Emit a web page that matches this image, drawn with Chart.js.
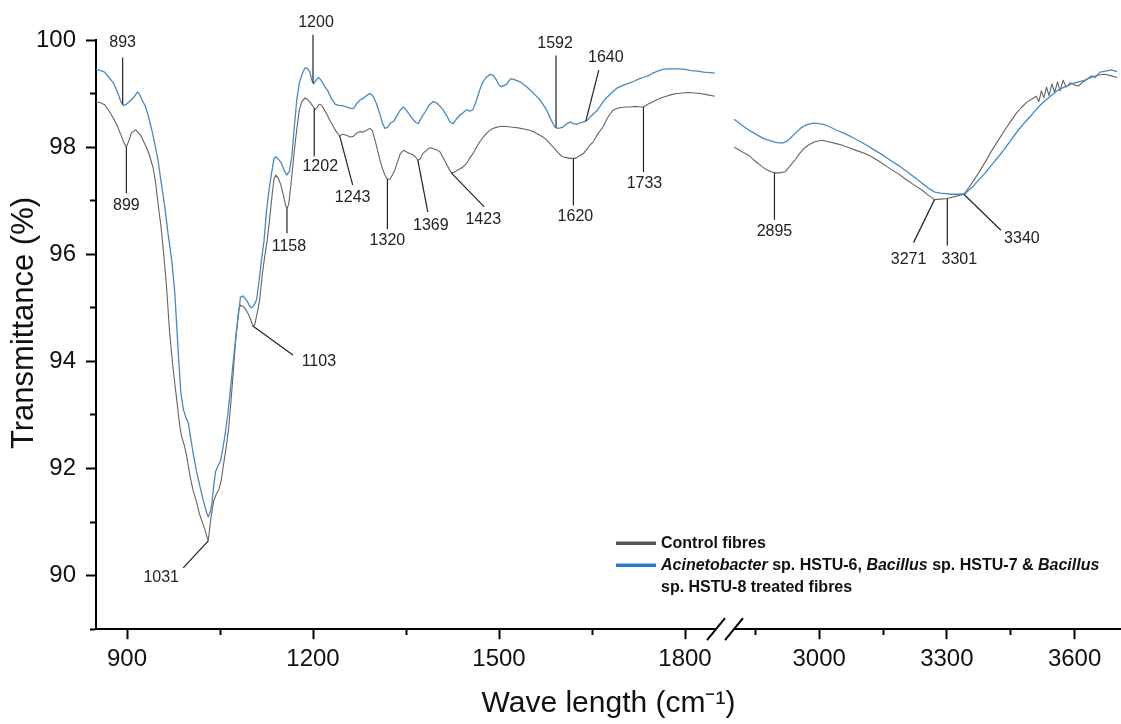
<!DOCTYPE html>
<html>
<head>
<meta charset="utf-8">
<title>FTIR spectra of control and treated fibres</title>
<script src="https://cdn.jsdelivr.net/npm/chart.js@4.4.1/dist/chart.umd.min.js"></script>
<style>
  html, body { margin: 0; padding: 0; background: #ffffff; }
  canvas { display: block; }
</style>
</head>
<body>
<canvas id="ftir" width="1121" height="724"></canvas>
<script>
// ---- Spectra: wavenumber (cm-1) and transmittance (%) ----
// Control fibres, 850-1850 cm-1
const controlLowWn = [
  850,857,864,871,878,885,891,895,899,903,
  907,911,914,918,922,927,932,937,942,946,
  950,955,960,964,969,974,980,985,988,992,
  996,1001,1006,1012,1017,1022,1026,1029,1031,1034,
  1037,1040,1044,1048,1052,1056,1060,1064,1068,1072,
  1076,1080,1083,1087,1091,1095,1099,1103,1106,1110,
  1114,1118,1122,1126,1130,1134,1137,1140,1144,1148,
  1152,1155,1158,1161,1164,1167,1170,1174,1178,1182,
  1187,1191,1195,1199,1203,1206,1210,1214,1218,1223,
  1228,1233,1238,1243,1248,1254,1260,1265,1270,1276,
  1281,1287,1292,1296,1300,1304,1308,1312,1316,1320,
  1324,1328,1332,1336,1341,1346,1351,1356,1361,1365,
  1369,1373,1377,1382,1387,1391,1396,1401,1405,1410,
  1415,1420,1423,1428,1433,1438,1442,1448,1453,1458,
  1464,1469,1475,1481,1487,1493,1500,1507,1515,1523,
  1531,1540,1548,1555,1563,1571,1578,1584,1589,1595,
  1600,1605,1610,1615,1620,1625,1630,1636,1641,1646,
  1652,1657,1662,1668,1673,1678,1684,1690,1697,1705,
  1712,1720,1727,1733,1740,1747,1754,1762,1770,1778,
  1787,1796,1805,1815,1825,1835,1848
];
const controlLowT = [
  98.85,98.83,98.79,98.68,98.54,98.38,98.20,98.08,98.00,98.12,
  98.26,98.30,98.32,98.27,98.22,98.10,97.98,97.82,97.62,97.35,
  96.95,96.50,95.90,95.35,94.50,93.90,93.30,92.80,92.60,92.45,
  92.25,91.90,91.62,91.38,91.15,90.98,90.85,90.72,90.65,90.95,
  91.20,91.40,91.52,91.60,91.78,92.10,92.40,92.75,93.30,93.90,
  94.50,94.95,95.05,95.03,94.98,94.90,94.80,94.66,94.68,94.90,
  95.15,95.60,95.95,96.25,96.65,97.10,97.40,97.48,97.42,97.30,
  97.12,96.95,96.84,96.95,97.25,97.60,97.95,98.35,98.70,98.85,
  98.92,98.89,98.84,98.78,98.70,98.73,98.80,98.78,98.70,98.60,
  98.48,98.38,98.28,98.21,98.24,98.22,98.19,98.20,98.26,98.29,
  98.28,98.32,98.35,98.30,98.13,97.95,97.76,97.60,97.48,97.40,
  97.40,97.48,97.57,97.72,97.88,97.94,97.91,97.88,97.86,97.82,
  97.76,97.78,97.88,97.93,97.98,97.99,97.96,97.94,97.91,97.80,
  97.69,97.58,97.52,97.53,97.57,97.60,97.63,97.70,97.80,97.88,
  98.00,98.10,98.19,98.27,98.33,98.36,98.38,98.39,98.38,98.37,
  98.36,98.34,98.32,98.29,98.24,98.19,98.12,98.04,97.98,97.90,
  97.84,97.81,97.80,97.79,97.79,97.80,97.84,97.88,97.95,98.03,
  98.10,98.20,98.29,98.38,98.50,98.60,98.69,98.72,98.74,98.75,
  98.75,98.76,98.75,98.75,98.80,98.84,98.88,98.92,98.95,98.98,
  99.00,99.01,99.02,99.01,99.00,98.98,98.95
];

// Control fibres, 2800-3700 cm-1
const controlHighWn = [
  2800,2811,2822,2834,2845,2856,2865,2876,2887,2896,
  2908,2920,2931,2943,2954,2965,2975,2990,3006,3022,
  3038,3053,3070,3090,3108,3125,3140,3155,3170,3186,
  3202,3220,3241,3257,3271,3285,3301,3320,3340,3352,
  3363,3374,3390,3405,3421,3437,3450,3462,3475,3488,
  3500,3510,3516,3522,3528,3534,3540,3547,3553,3560,
  3566,3573,3580,3590,3600,3609,3620,3632,3645,3660,
  3672,3686,3700
];
const controlHighT = [
  98.00,97.95,97.90,97.85,97.77,97.70,97.64,97.58,97.54,97.52,
  97.52,97.54,97.64,97.76,97.88,97.98,98.04,98.10,98.13,98.10,
  98.07,98.04,97.99,97.93,97.88,97.81,97.74,97.66,97.58,97.50,
  97.41,97.31,97.20,97.10,97.02,97.03,97.04,97.08,97.12,97.25,
  97.38,97.51,97.72,97.93,98.13,98.33,98.48,98.62,98.74,98.84,
  98.90,98.95,98.85,99.05,98.92,99.12,98.96,99.18,99.02,99.22,
  99.05,99.25,99.12,99.20,99.16,99.14,99.22,99.28,99.32,99.35,
  99.36,99.33,99.30
];

// Treated fibres, 850-1850 cm-1
const treatedLowWn = [
  850,858,864,871,878,885,890,894,899,905,
  911,917,921,925,929,934,940,945,950,955,
  961,966,972,977,983,987,991,995,999,1003,
  1007,1012,1018,1022,1026,1029,1031,1034,1037,1040,
  1043,1047,1051,1055,1059,1063,1067,1071,1075,1079,
  1083,1087,1090,1094,1098,1101,1105,1109,1113,1117,
  1121,1125,1129,1133,1137,1140,1144,1149,1154,1158,
  1162,1166,1170,1174,1178,1182,1187,1191,1195,1198,
  1201,1205,1209,1213,1218,1224,1230,1236,1242,1249,
  1256,1262,1266,1271,1276,1282,1287,1292,1297,1302,
  1307,1312,1316,1320,1325,1330,1335,1340,1346,1351,
  1356,1361,1366,1370,1375,1381,1387,1394,1400,1405,
  1410,1416,1421,1426,1431,1437,1442,1448,1453,1458,
  1463,1469,1474,1480,1486,1491,1496,1500,1504,1508,
  1512,1516,1520,1527,1534,1542,1550,1558,1566,1572,
  1577,1582,1587,1590,1594,1599,1604,1609,1614,1620,
  1625,1630,1636,1641,1646,1652,1658,1664,1670,1676,
  1683,1690,1697,1704,1711,1718,1725,1732,1740,1748,
  1756,1764,1772,1781,1790,1800,1810,1820,1830,1840,
  1848
];
const treatedLowT = [
  99.45,99.43,99.40,99.30,99.20,99.02,98.85,98.78,98.80,98.86,
  98.93,99.03,98.97,98.86,98.78,98.60,98.32,98.05,97.76,97.35,
  96.88,96.40,95.90,95.30,94.10,93.40,93.10,92.95,92.85,92.55,
  92.27,91.95,91.65,91.45,91.28,91.15,91.10,91.18,91.35,91.70,
  91.95,92.05,92.15,92.40,92.70,93.05,93.50,93.96,94.40,94.80,
  95.20,95.22,95.18,95.12,95.03,95.00,95.05,95.15,95.50,95.90,
  96.25,96.80,97.20,97.50,97.78,97.82,97.78,97.70,97.55,97.48,
  97.55,97.85,98.40,98.90,99.20,99.35,99.48,99.47,99.40,99.25,
  99.18,99.25,99.30,99.25,99.15,99.05,98.90,98.80,98.78,98.77,
  98.74,98.72,98.73,98.82,98.88,98.92,98.97,99.00,98.95,98.82,
  98.65,98.45,98.35,98.37,98.45,98.48,98.58,98.68,98.75,98.68,
  98.60,98.52,98.46,98.44,98.55,98.66,98.78,98.85,98.82,98.76,
  98.69,98.58,98.47,98.44,98.52,98.60,98.64,98.70,98.67,98.70,
  98.85,99.07,99.22,99.31,99.36,99.34,99.25,99.16,99.13,99.15,
  99.17,99.24,99.28,99.25,99.22,99.15,99.07,98.98,98.88,98.78,
  98.69,98.56,98.44,98.38,98.35,98.36,98.38,98.43,98.47,98.44,
  98.43,98.45,98.47,98.49,98.55,98.62,98.68,98.78,98.88,98.95,
  99.03,99.10,99.14,99.17,99.20,99.23,99.27,99.30,99.33,99.38,
  99.42,99.45,99.46,99.46,99.46,99.45,99.43,99.42,99.40,99.39,
  99.38
];

// Treated fibres, 2800-3700 cm-1
const treatedHighWn = [
  2800,2812,2825,2841,2856,2870,2881,2893,2905,2916,
  2926,2935,2947,2959,2972,2986,3000,3012,3022,3040,
  3058,3076,3095,3113,3131,3150,3168,3186,3205,3220,
  3233,3246,3259,3272,3285,3298,3311,3325,3342,3352,
  3363,3374,3390,3405,3421,3437,3452,3468,3484,3500,
  3515,3531,3546,3562,3578,3593,3609,3625,3640,3648,
  3660,3672,3686,3700
];
const treatedHighT = [
  98.52,98.45,98.37,98.29,98.22,98.16,98.13,98.10,98.08,98.08,
  98.12,98.19,98.28,98.37,98.42,98.45,98.44,98.42,98.39,98.32,
  98.26,98.19,98.11,98.03,97.94,97.85,97.75,97.66,97.55,97.46,
  97.38,97.30,97.22,97.16,97.14,97.13,97.12,97.12,97.13,97.20,
  97.28,97.38,97.52,97.67,97.82,97.98,98.15,98.32,98.47,98.61,
  98.75,98.87,98.97,99.07,99.13,99.18,99.22,99.25,99.33,99.30,
  99.40,99.42,99.44,99.41
];

// ---- Axis ticks ----
const xLowMajorTicks = [900, 1200, 1500, 1800];
const xLowMinorTicks = [1050, 1350, 1650];
const xHighMajorTicks = [3000, 3300, 3600];
const xHighMinorTicks = [2850, 3150, 3450];
const yMajorTicks = [90, 92, 94, 96, 98, 100];
const yMinorTicks = [89, 91, 93, 95, 97, 99];

// ---- Labelled bands ----
const peakWavenumbers = [893, 899, 1031, 1103, 1158, 1200, 1202, 1243, 1320, 1369, 1423, 1592, 1640, 1620, 1733, 2895, 3271, 3301, 3340];
const peakSeries = ['treated', 'control', 'control', 'control', 'control', 'treated', 'control', 'control', 'control', 'control', 'control', 'treated', 'treated', 'control', 'control', 'control', 'control', 'control', 'control'];

// ---- Series names and axis titles ----
const seriesNames = ['Control fibres', 'Acinetobacter sp. HSTU-6, Bacillus sp. HSTU-7 & Bacillus sp. HSTU-8 treated fibres'];
const legendLines = [
  [[{ text: 'Control fibres' }]],
  [
    [{ text: 'Acinetobacter', italic: true }, { text: ' sp. HSTU-6, ' }, { text: 'Bacillus', italic: true }, { text: ' sp. HSTU-7 & ' }, { text: 'Bacillus', italic: true }],
    [{ text: 'sp. HSTU-8 treated fibres' }]
  ]
];
const xTitle = 'Wave length (cm\u207B\u00B9)';
const yTitle = 'Transmittance (%)';

// ---- Styling ----
const FONT = '"Liberation Sans", Arial, Helvetica, sans-serif';
const INK = '#111111';
const controlColor = '#646464';
const treatedColor = '#4a89bf';
const legendColors = ['#555555', '#2f78c2'];

// Leader line end (dx, dy) and label centre (tx, ty), in pixels from the band point
const peakLabelLayout = [
  [0, -47, 0, -62],
  [0, 46, 0, 58],
  [-25, 27, -47, 37],
  [40, 29, 66, 36],
  [0, 24, 2, 37],
  [0, -48, 3, -60],
  [0, 48, 6, 58],
  [13, 49, 13, 62],
  [0, 50, 0, 61],
  [10, 52, 13, 66],
  [33, 34, 32, 47],
  [0, -72, -1, -84],
  [13, -51, 20, -64],
  [0, 47, 2, 58],
  [0, 65, 1, 77],
  [0, 47, 0, 59],
  [-21, 43, -26, 60],
  [0, 47, 12, 61],
  [37, 36, 58, 44]
];

Chart.defaults.font.family = FONT;
Chart.defaults.color = INK;

const zip = (xs, ys) => xs.map((x, i) => ({ x: x, y: ys[i] }));

const seriesParts = {
  control: [[controlLowWn, controlLowT, 'xL'], [controlHighWn, controlHighT, 'xR']],
  treated: [[treatedLowWn, treatedLowT, 'xL'], [treatedHighWn, treatedHighT, 'xR']]
};

function interpolate(wns, ts, wn) {
  for (let i = 1; i < wns.length; i++) {
    if (wn <= wns[i]) {
      const f = (wn - wns[i - 1]) / (wns[i] - wns[i - 1]);
      return ts[i - 1] + f * (ts[i] - ts[i - 1]);
    }
  }
  return ts[ts.length - 1];
}

function tickSetter(majors, minors) {
  return function (scale) {
    scale.ticks = majors.concat(minors).sort((a, b) => a - b).map(v => ({ value: v }));
  };
}

function xAxis(min, max, weight, majors, minors) {
  return {
    type: 'linear',
    position: 'bottom',
    stack: 'wavenumber',
    stackWeight: weight,
    min: min,
    max: max,
    afterBuildTicks: tickSetter(majors, minors),
    // segments sit edge to edge; no label overflow padding at their ends
    afterFit: (scale) => { scale.paddingLeft = 0; scale.paddingRight = 0; },
    border: { display: true, color: '#000000', width: 2 },
    grid: {
      drawOnChartArea: false,
      drawTicks: true,
      tickLength: 10,
      tickWidth: 2,
      tickColor: '#000000',
      tickBorderDash: (c) => (c.tick && minors.includes(c.tick.value)) ? [5, 40] : []
    },
    ticks: {
      autoSkip: false,
      maxRotation: 0,
      padding: 6,
      font: { size: 24 },
      color: INK,
      callback: (v) => majors.includes(v) ? String(v) : ''
    }
  };
}

// Labels and leader lines for the assigned bands
const peakLabelPlugin = {
  id: 'peakLabels',
  afterDatasetsDraw(chart) {
    const ctx = chart.ctx;
    const yScale = chart.scales.y;
    ctx.save();
    ctx.strokeStyle = '#222222';
    ctx.lineWidth = 1.2;
    ctx.fillStyle = '#222222';
    ctx.font = '16px ' + FONT;
    ctx.textAlign = 'center';
    ctx.textBaseline = 'middle';
    peakWavenumbers.forEach((wn, i) => {
      const part = seriesParts[peakSeries[i]][wn < 2000 ? 0 : 1];
      const xScale = chart.scales[part[2]];
      const px = xScale.getPixelForValue(wn);
      const py = yScale.getPixelForValue(interpolate(part[0], part[1], wn));
      const l = peakLabelLayout[i];
      ctx.beginPath();
      ctx.moveTo(px, py);
      ctx.lineTo(px + l[0], py + l[1]);
      ctx.stroke();
      ctx.fillText(String(wn), px + l[2], py + l[3]);
    });
    ctx.restore();
  }
};

// Break marks on the wavenumber axis and the rotated transmittance title
const axisDecorPlugin = {
  id: 'axisDecor',
  afterDraw(chart) {
    const ctx = chart.ctx;
    const left = chart.scales.xL;
    const right = chart.scales.xR;
    const y = left.top;
    ctx.save();
    ctx.strokeStyle = '#000000';
    ctx.lineWidth = 2;
    [left.right, right.left].forEach(cx => {
      ctx.beginPath();
      ctx.moveTo(cx - 9, y + 11);
      ctx.lineTo(cx + 9, y - 11);
      ctx.stroke();
    });
    const ys = chart.scales.y;
    ctx.translate(ys.left + 24, chart.chartArea.top + 283);
    ctx.rotate(-Math.PI / 2);
    ctx.font = '31px ' + FONT;
    ctx.fillStyle = INK;
    ctx.textAlign = 'center';
    ctx.textBaseline = 'middle';
    ctx.fillText(yTitle, 0, 0);
    ctx.restore();
  }
};

// Legend with italic genus names
const fibreLegendPlugin = {
  id: 'fibreLegend',
  afterDraw(chart) {
    const ctx = chart.ctx;
    const a = chart.chartArea;
    const x0 = a.left + 520, x1 = a.left + 560, tx = a.left + 565;
    let y = a.bottom - 86;
    ctx.save();
    ctx.textAlign = 'left';
    ctx.textBaseline = 'middle';
    ctx.fillStyle = INK;
    legendLines.forEach((lines, i) => {
      ctx.strokeStyle = legendColors[i];
      ctx.lineWidth = 3.5;
      ctx.beginPath();
      ctx.moveTo(x0, y);
      ctx.lineTo(x1, y);
      ctx.stroke();
      lines.forEach(line => {
        let x = tx;
        line.forEach(seg => {
          ctx.font = (seg.italic ? 'italic ' : '') + 'bold 16px ' + FONT;
          ctx.fillText(seg.text, x, y);
          x += ctx.measureText(seg.text).width;
        });
        y += 22;
      });
    });
    ctx.restore();
  }
};

const lineStyle = (color, width) => ({
  borderColor: color,
  backgroundColor: color,
  borderWidth: width,
  pointRadius: 0,
  tension: 0,
  fill: false,
  borderJoinStyle: 'round'
});

new Chart(document.getElementById('ftir'), {
  type: 'line',
  data: {
    datasets: [
      Object.assign({ label: seriesNames[1], data: zip(treatedLowWn, treatedLowT), xAxisID: 'xL', yAxisID: 'y' }, lineStyle(treatedColor, 1.3)),
      Object.assign({ label: seriesNames[1], data: zip(treatedHighWn, treatedHighT), xAxisID: 'xR', yAxisID: 'y' }, lineStyle(treatedColor, 1.3)),
      Object.assign({ label: seriesNames[0], data: zip(controlLowWn, controlLowT), xAxisID: 'xL', yAxisID: 'y' }, lineStyle(controlColor, 1.1)),
      Object.assign({ label: seriesNames[0], data: zip(controlHighWn, controlHighT), xAxisID: 'xR', yAxisID: 'y' }, lineStyle(controlColor, 1.1))
    ]
  },
  options: {
    responsive: false,
    animation: false,
    devicePixelRatio: 1,
    layout: { autoPadding: false, padding: { top: 40, right: 0, bottom: 0, left: 0 } },
    scales: {
      xL: Object.assign(xAxis(850, 1850, 620, xLowMajorTicks, xLowMinorTicks), { weight: 0 }),
      xGap: {
        type: 'linear',
        position: 'bottom',
        stack: 'wavenumber',
        stackWeight: 18,
        weight: 1,
        min: 0,
        max: 1,
        border: { display: false },
        grid: { display: false, drawTicks: false },
        ticks: { display: false }
      },
      xR: Object.assign(xAxis(2800, 3709, 387, xHighMajorTicks, xHighMinorTicks), { weight: 2 }),
      y: {
        type: 'linear',
        position: 'left',
        min: 89,
        max: 100,
        afterBuildTicks: tickSetter(yMajorTicks, yMinorTicks),
        afterFit: (scale) => { scale.width = 96; },
        border: { display: true, color: '#000000', width: 2 },
        grid: {
          drawOnChartArea: false,
          drawTicks: true,
          tickLength: 10,
          tickWidth: 2,
          tickColor: '#000000',
          tickBorderDash: (c) => (c.tick && yMinorTicks.includes(c.tick.value)) ? [0, 4, 5, 40] : []
        },
        ticks: {
          autoSkip: false,
          padding: 10,
          font: { size: 24 },
          color: INK,
          callback: (v) => yMajorTicks.includes(v) ? String(v) : ''
        }
      }
    },
    plugins: {
      legend: { display: false },
      tooltip: { enabled: false },
      title: {
        display: true,
        position: 'bottom',
        fullSize: false,
        text: xTitle,
        font: { size: 30, weight: 'normal' },
        color: INK,
        padding: { top: 6, bottom: 2 }
      }
    }
  },
  plugins: [peakLabelPlugin, axisDecorPlugin, fibreLegendPlugin]
});
</script>
</body>
</html>
